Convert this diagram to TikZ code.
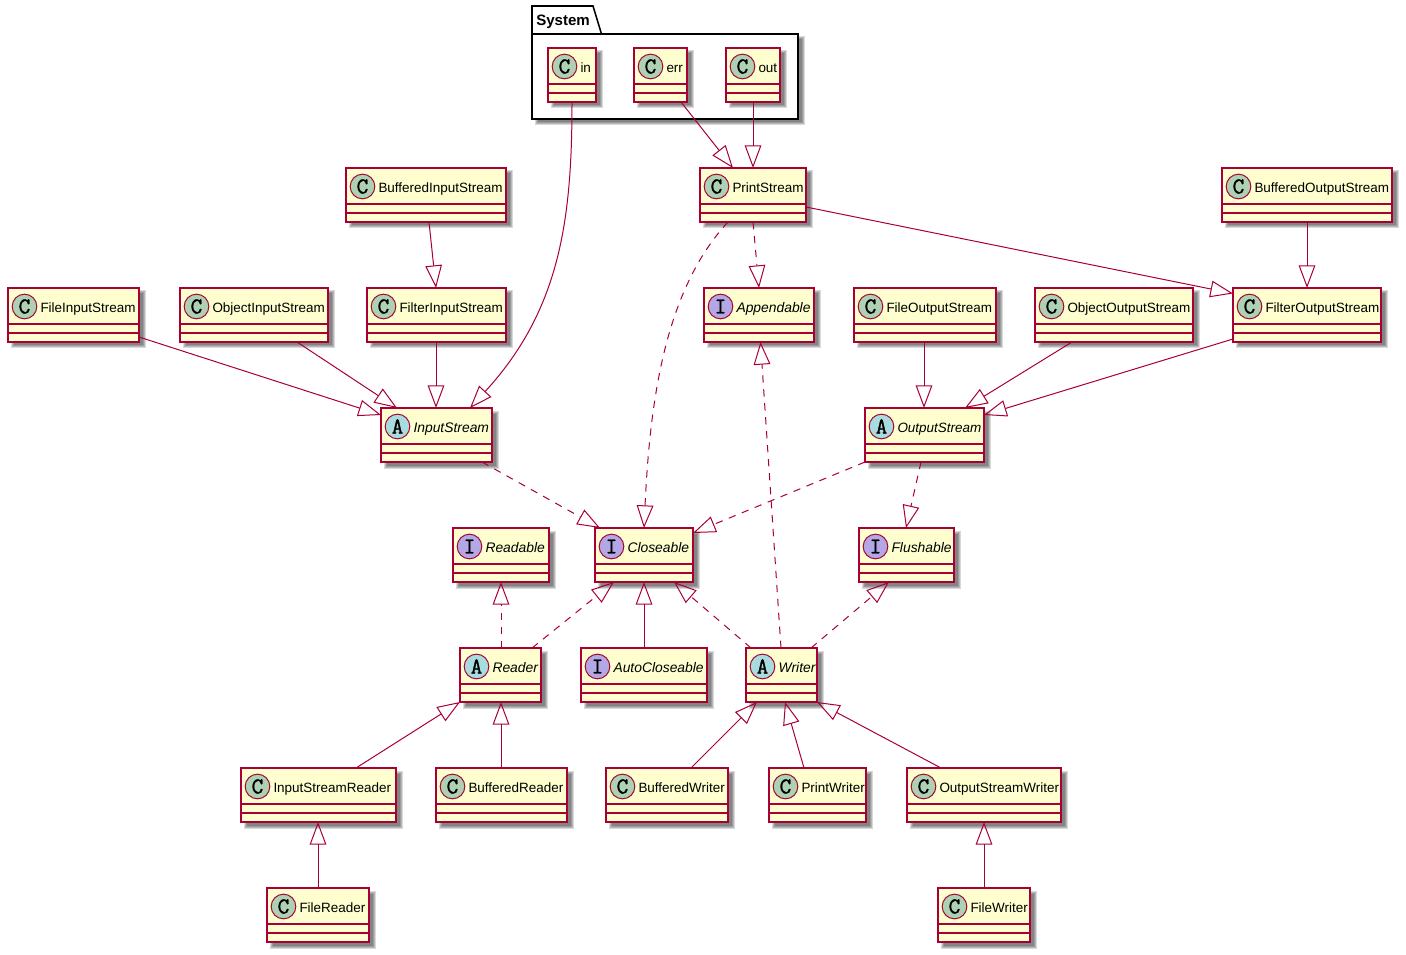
\documentclass[tikz,border=0pt]{standalone}
\usepackage{fontspec}
\setmainfont{Liberation Sans}
\newfontfamily\glyphfont[FakeBold=1.3]{Latin Modern Mono}
\usetikzlibrary{arrows.meta,calc,fit}
\definecolor{umlfill}{HTML}{FEFECE}
\definecolor{umlline}{HTML}{A80036}
\definecolor{spotc}{HTML}{ADD1B2}
\definecolor{spota}{HTML}{A9DCDF}
\definecolor{spoti}{HTML}{B4A7E5}
\tikzset{
  umlbox/.style={draw=umlline,fill=umlfill,line width=1.15pt,inner sep=0pt,outer sep=0pt},
  sepline/.style={draw=umlline,line width=1.1pt},
  spot/.style={circle,draw=umlline,line width=.75pt,minimum size=18.5pt,inner sep=0pt,outer sep=0pt},
  spotglyph/.style={font=\glyphfont\fontsize{17pt}{18pt}\selectfont,text=black},
  umllabel/.style={anchor=base west,inner sep=0pt,outer sep=0pt,text=black,font=\fontsize{10.1pt}{12pt}\selectfont},
  ext/.style={draw=umlline,line width=.75pt,-{Triangle[open,length=17pt,width=12.5pt]}},
  impl/.style={ext,dash pattern=on 5.5pt off 5pt},
  softshadow/.style={fill=black,fill opacity=.15,draw=none},
}
\newcommand{\softrect}[4]{%
  \foreach \s in {-1,0,1,2}{\path[softshadow] ({#1+4.5-\s},{#2+4.5-\s}) rectangle ({#3+4.5+\s},{#4+4.5+\s});}}
% name x1 y1 x2 y2 spot-colour letter text
\newcommand{\umlclass}[8]{%
  \softrect{#2}{#3}{#4}{#5}
  \node[umlbox,fit={(#2,#3)(#4,#5)}] (#1) {};
  \draw[sepline] ($(#1.north west)+(0,36)$) -- ($(#1.north east)+(0,36)$);
  \draw[sepline] ($(#1.north west)+(0,45)$) -- ($(#1.north east)+(0,45)$);
  \node[spot,fill=#6] (#1-spot) at ($(#1.north west)+(16.5,18.5)$) {};
  \node[spotglyph] (#1-glyph) at (#1-spot) {#7};
  \node[umllabel] (#1-text) at ($(#1.north west)+(32.5,24.5)$) {#8};
}
\newcommand{\cls}[6]{\umlclass{#1}{#2}{#3}{#4}{#5}{spotc}{C}{#6}}
\newcommand{\abs}[6]{\umlclass{#1}{#2}{#3}{#4}{#5}{spota}{A}{\fontsize{10.4pt}{12pt}\selectfont\itshape #6}}
\newcommand{\ifc}[6]{\umlclass{#1}{#2}{#3}{#4}{#5}{spoti}{I}{\fontsize{10.4pt}{12pt}\selectfont\itshape #6}}
% style, from, dx, dy, to, dx, dy (offsets from the north west corners)
\newcommand{\link}[7]{\draw[#1] ($(#2.north west)+(#3,#4)$) -- ($(#5.north west)+(#6,#7)$);}
\begin{document}
\begin{tikzpicture}[x=0.75pt,y=-0.75pt]
\useasboundingbox (0,0) rectangle (1406,955);
\fill[white] (0,0) rectangle (1406,955);
% package
\softrect{532}{34}{798}{119}
\draw[black,line width=1.15pt,fill=white] (532,119) -- (532,6) -- (593,6) -- (601.5,34) -- (798,34) -- (798,119) -- cycle;
\draw[black,line width=1.15pt] (532,34) -- (601.5,34);
\node[anchor=base west,inner sep=0pt,font=\bfseries\fontsize{11.3pt}{13pt}\selectfont] (systemlabel) at (536,26) {System};
% classes
\cls{in}{548}{48}{596}{102}{in}
\cls{err}{634}{48}{687}{102}{err}
\cls{out}{726}{48}{780}{102}{out}
\cls{printstream}{700}{168}{806}{222}{PrintStream}
\cls{bis}{346}{168}{506}{222}{BufferedInputStream}
\cls{bos}{1222}{168}{1392}{222}{BufferedOutputStream}
\cls{fileis}{8}{288}{139}{342}{FileInputStream}
\cls{ois}{180}{288}{328}{342}{ObjectInputStream}
\cls{filteris}{367}{288}{506}{342}{FilterInputStream}
\ifc{appendable}{704}{288}{814}{342}{Appendable}
\cls{fileos}{854}{288}{996}{342}{FileOutputStream}
\cls{oos}{1035}{288}{1193}{342}{ObjectOutputStream}
\cls{filteros}{1233}{288}{1381}{342}{FilterOutputStream}
\abs{inputstream}{381}{408}{492}{462}{InputStream}
\abs{outputstream}{865}{408}{984}{462}{\fontsize{10.1pt}{12pt}\selectfont OutputStream}
\ifc{readable}{453}{528}{549}{582}{Readable}
\ifc{closeable}{595}{528}{693}{582}{Closeable}
\ifc{flushable}{859}{528}{954}{582}{Flushable}
\abs{reader}{460}{648}{541}{702}{Reader}
\ifc{autocloseable}{581}{648}{707}{702}{AutoCloseable}
\abs{writer}{746}{648}{817}{702}{Writer}
\cls{isr}{241}{768}{396}{822}{InputStreamReader}
\cls{bufreader}{436}{768}{567}{822}{BufferedReader}
\cls{bufwriter}{606}{768}{728}{822}{BufferedWriter}
\cls{printwriter}{769}{768}{866}{822}{PrintWriter}
\cls{osw}{907}{768}{1061}{822}{OutputStreamWriter}
\cls{filereader}{267}{888}{369}{942}{FileReader}
\cls{filewriter}{938}{888}{1030}{942}{FileWriter}
% connectors
\draw[ext] ($(in.north west)+(24,54)$) .. controls ($(in.north west)+(24,172)$) and ($(inputstream.north west)+(179,-98)$) .. ($(inputstream.north west)+(89,0)$);
\link{ext}{err}{47}{54}{printstream}{33}{0}
\link{ext}{out}{27}{54}{printstream}{53}{0}
\link{ext}{bis}{83}{54}{filteris}{69}{0}
\link{ext}{bos}{85}{54}{filteros}{74}{0}
\link{ext}{printstream}{106}{39}{filteros}{0}{5.5}
\draw[impl] ($(printstream.north west)+(28,54)$) .. controls ($(printstream.north west)+(-35,122)$) and ($(closeable.north west)+(55,-128)$) .. ($(closeable.north west)+(49,0)$);
\link{impl}{printstream}{53}{54}{appendable}{55}{0}
\link{impl}{writer}{35}{0}{appendable}{56.5}{54}
\link{ext}{filteris}{69}{54}{inputstream}{55}{0}
\link{ext}{ois}{117}{54}{inputstream}{16}{0}
\link{ext}{fileis}{131}{49}{inputstream}{0}{7}
\link{ext}{fileos}{70}{54}{outputstream}{59}{0}
\link{ext}{oos}{37}{54}{outputstream}{100}{0}
\link{ext}{filteros}{0}{51}{outputstream}{119}{7}
\link{impl}{inputstream}{101}{54}{closeable}{5}{0}
\link{impl}{outputstream}{0}{54}{closeable}{98}{5}
\link{impl}{outputstream}{56}{54}{flushable}{47}{0}
\link{impl}{reader}{41}{0}{readable}{48}{54}
\link{impl}{reader}{72}{0}{closeable}{19}{54}
\link{ext}{autocloseable}{63}{0}{closeable}{49}{54}
\link{impl}{writer}{5}{0}{closeable}{79}{54}
\link{impl}{writer}{65}{0}{flushable}{30}{54}
\link{ext}{isr}{115}{0}{reader}{0}{54}
\link{ext}{bufreader}{65}{0}{reader}{41}{54}
\link{ext}{bufwriter}{85}{0}{writer}{11}{54}
\link{ext}{printwriter}{35}{0}{writer}{39}{54}
\link{ext}{osw}{34}{0}{writer}{71}{54}
\link{ext}{filereader}{51}{0}{isr}{77}{54}
\link{ext}{filewriter}{46}{0}{osw}{77}{54}
\end{tikzpicture}
\end{document}
